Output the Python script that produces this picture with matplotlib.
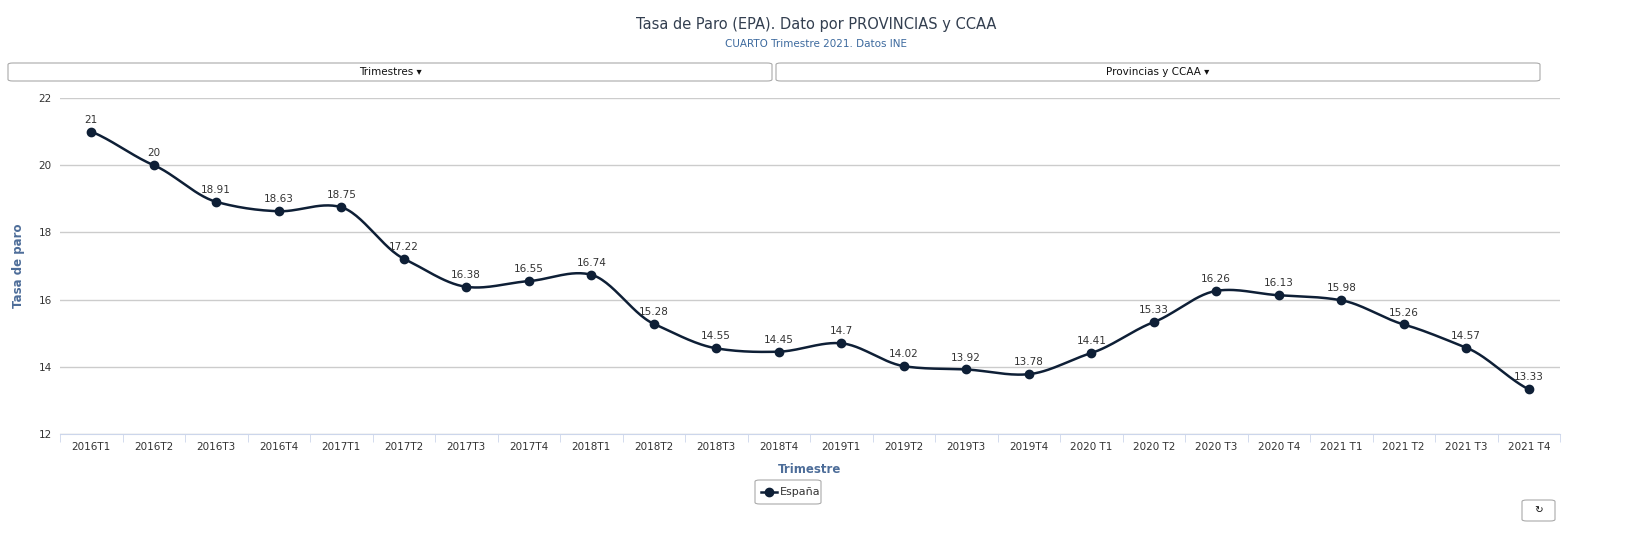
import matplotlib
matplotlib.use("Agg")
import matplotlib.pyplot as plt
from matplotlib.patches import FancyBboxPatch
import numpy as np

categories = ["2016T1","2016T2","2016T3","2016T4","2017T1","2017T2","2017T3","2017T4","2018T1","2018T2",
              "2018T3","2018T4","2019T1","2019T2","2019T3","2019T4","2020 T1","2020 T2","2020 T3","2020 T4",
              "2021 T1","2021 T2","2021 T3","2021 T4"]
espana = [21, 20, 18.91, 18.63, 18.75, 17.22, 16.38, 16.55, 16.74, 15.28, 14.55, 14.45, 14.7, 14.02,
          13.92, 13.78, 14.41, 15.33, 16.26, 16.13, 15.98, 15.26, 14.57, 13.33]
labels = ["21","20","18.91","18.63","18.75","17.22","16.38","16.55","16.74","15.28","14.55","14.45","14.7",
          "14.02","13.92","13.78","14.41","15.33","16.26","16.13","15.98","15.26","14.57","13.33"]

fig = plt.figure(figsize=(16.32, 5.55), dpi=100)
ax = fig.add_axes([60/1632, 1-434/555, 1500/1632, 336/555])
x = np.arange(len(categories))
y = np.array(espana, float)

xs, ys = [], []
n = len(x)
for i in range(n-1):
    p0 = y[max(i-1,0)]; p1 = y[i]; p2 = y[i+1]; p3 = y[min(i+2,n-1)]
    t = np.linspace(0,1,30)
    m1 = (p2-p0)/2 if 0 < i else (p2-p1)
    m2 = (p3-p1)/2 if i+1 < n-1 else (p2-p1)
    h00=2*t**3-3*t**2+1; h10=t**3-2*t**2+t; h01=-2*t**3+3*t**2; h11=t**3-t**2
    xs.extend(x[i]+t); ys.extend(h00*p1+h10*m1*0.75+h01*p2+h11*m2*0.75)
col = "#0e1f36"
ax.plot(xs, ys, color=col, lw=1.8)
ax.plot(x, y, 'o', color=col, ms=6)
for xi, yi, lb in zip(x, y, labels):
    ax.annotate(lb, (xi, yi), xytext=(0, 5), textcoords="offset points", ha="center", va="bottom",
                fontsize=7.5, color="#333333")

ax.set_xlim(-0.5, n-0.5)
ax.set_ylim(12, 22)
ax.set_yticks([12,14,16,18,20,22])
ax.set_xticks(x)
ax.set_xticklabels(categories, fontsize=7.5, color="#333333")
ax.tick_params(axis='y', length=0, labelsize=7.5, labelcolor="#333333", pad=6)
ax.set_xticks(np.arange(-0.5, n, 1), minor=True)
ax.tick_params(axis='x', which='minor', length=6, color="#ccd6eb")
ax.tick_params(axis='x', which='major', length=0, pad=6)
ax.grid(axis='y', color="#cccccc", lw=1)
for s in ["top","right","left"]:
    ax.spines[s].set_visible(False)
ax.spines["bottom"].set_color("#ccd6eb")
ax.set_ylabel("Tasa de paro", fontsize=8.5, color="#4d6d99", fontweight="bold", labelpad=10)
ax.set_xlabel("Trimestre", fontsize=8.5, color="#4d6d99", fontweight="bold", labelpad=8)

fig.text(0.5, 1-25/555, "Tasa de Paro (EPA). Dato por PROVINCIAS y CCAA", ha="center", va="center",
         fontsize=10.5, color="#333f50")
fig.text(0.5, 1-44/555, "CUARTO Trimestre 2021. Datos INE", ha="center", va="center", fontsize=7.5, color="#3d6a9e")

def box(x0, y0, x1, y1, txt=None):
    p = FancyBboxPatch((x0/1632, 1-y1/555), (x1-x0)/1632, (y1-y0)/555,
                       boxstyle="round,pad=0,rounding_size=0.003", transform=fig.transFigure,
                       fc="white", ec="#aaaaaa", lw=0.8)
    fig.add_artist(p)
    if txt:
        fig.text((x0+x1)/2/1632, 1-(y0+y1)/2/555, txt, ha="center", va="center", fontsize=7.5, color="#111111")
box(8, 63, 772, 81, "Trimestres ▾")
box(776, 63, 1540, 81, "Provincias y CCAA ▾")
box(755, 480, 821, 504)
fig.add_artist(plt.Line2D([761/1632, 777/1632], [1-492/555]*2, color=col, lw=1.8, transform=fig.transFigure))
fig.add_artist(plt.Line2D([769/1632], [1-492/555], marker='o', color=col, ms=6, transform=fig.transFigure))
fig.text(780/1632, 1-492/555, "España", ha="left", va="center", fontsize=8, color="#333333")
box(1522, 500, 1555, 521, "↻")

fig.savefig("out.png", dpi=100, facecolor="white")
